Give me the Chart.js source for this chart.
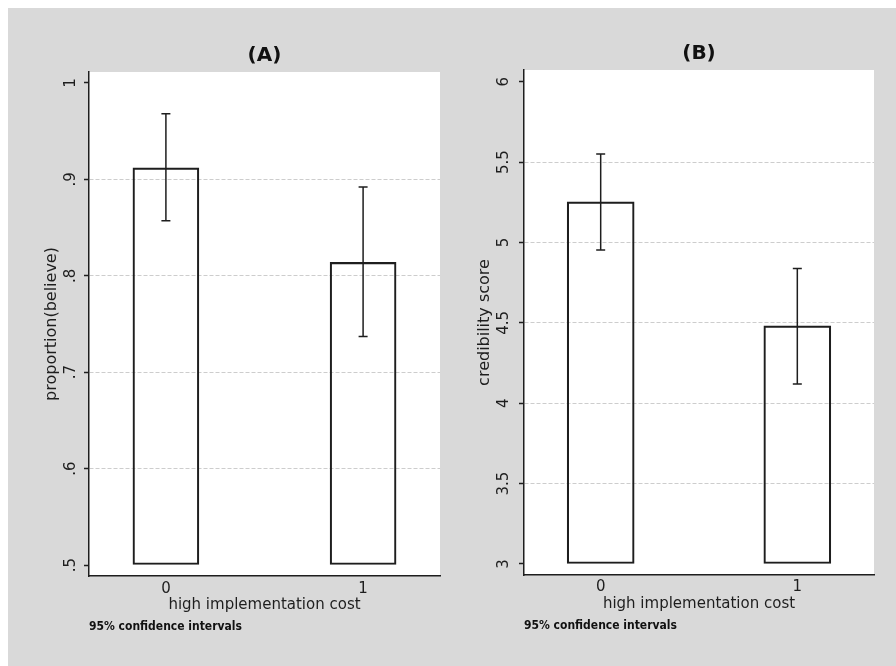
<!DOCTYPE html>
<html>
<head>
<meta charset="utf-8">
<script src="https://cdn.jsdelivr.net/npm/chart.js@4/dist/chart.umd.min.js"></script>
<style>
    body { margin: 0; background: #ffffff; }
    #bg { position: absolute; left: 8px; top: 8px; width: 888px; height: 658px; background: #d9d9d9; }
    .panel { position: absolute; top: 0; width: 448px; height: 666px; }
</style>
</head>
<body>
<div id="bg"></div>
<div class="panel" style="left:0"><canvas id="chartA" width="448" height="666"></canvas></div>
<div class="panel" style="left:448px"><canvas id="chartB" width="448" height="666"></canvas></div>
<script>
// data
const categories = ['0', '1'];

const meanA = [0.912, 0.814];
const lowA = [0.857, 0.737];
const highA = [0.968, 0.892];
const yTicksA = [0.5, 0.6, 0.7, 0.8, 0.9, 1];
const yLabelsA = ['.5', '.6', '.7', '.8', '.9', '1'];

const meanB = [5.253, 4.481];
const lowB = [4.953, 4.12];
const highB = [5.551, 4.838];
const yTicksB = [3, 3.5, 4, 4.5, 5, 5.5, 6];
const yLabelsB = ['3', '3.5', '4', '4.5', '5', '5.5', '6'];

const ink = '#1e1e1e';
const font = 'DejaVu Sans';

// white plot region
const plotBackground = {
    id: 'plotBackground',
    beforeDraw(chart) {
        const a = chart.chartArea;
        const ctx = chart.ctx;
        ctx.save();
        ctx.fillStyle = '#ffffff';
        ctx.fillRect(a.left, a.top, a.right - a.left, a.bottom - a.top);
        ctx.restore();
    }
};

// 95% CI whiskers
const errorBars = {
    id: 'errorBars',
    afterDatasetsDraw(chart, args, opts) {
        const ctx = chart.ctx;
        const xs = chart.scales.x;
        const ys = chart.scales.y;
        ctx.save();
        ctx.strokeStyle = ink;
        ctx.lineWidth = 1.5;
        opts.low.forEach((lo, i) => {
            const x = xs.getPixelForValue(i);
            const y1 = ys.getPixelForValue(lo);
            const y2 = ys.getPixelForValue(opts.high[i]);
            ctx.beginPath();
            ctx.moveTo(x, y1); ctx.lineTo(x, y2);
            ctx.moveTo(x - 4.5, y1); ctx.lineTo(x + 4.5, y1);
            ctx.moveTo(x - 4.5, y2); ctx.lineTo(x + 4.5, y2);
            ctx.stroke();
        });
        ctx.restore();
    }
};

function makeChart(id, cfg) {
    const ctx = document.getElementById(id).getContext('2d');
    return new Chart(ctx, {
        type: 'bar',
        data: {
            datasets: [{
                data: categories.map((c, i) => ({ x: i, y: cfg.means[i] })),
                base: cfg.yTicks[0],
                backgroundColor: 'rgba(255,255,255,0)',
                borderColor: ink,
                borderWidth: 1.5,
                borderSkipped: false,
                barThickness: cfg.barWidth
            }]
        },
        plugins: [plotBackground, errorBars],
        options: {
            responsive: false,
            animation: false,
            layout: { padding: cfg.padding },
            scales: {
                x: {
                    type: 'linear',
                    min: -0.39,
                    max: 1.39,
                    offset: false,
                    bounds: 'data',
                    afterBuildTicks: (s) => { s.ticks = categories.map((c, i) => ({ value: i })); },
                    afterFit: (s) => { s.height = cfg.xHeight; },
                    grid: { display: false, drawTicks: false, offset: false },
                    border: { display: true, color: ink, width: 1.5 },
                    ticks: {
                        padding: cfg.xTickPad,
                        color: ink,
                        font: { family: font, size: 15 },
                        callback: (v, i) => categories[i]
                    },
                    title: {
                        display: true,
                        text: 'high implementation cost',
                        color: ink,
                        font: { family: font, size: 15, lineHeight: 1 },
                        padding: { top: 0, bottom: 0 }
                    }
                },
                y: {
                    min: cfg.yMin,
                    max: cfg.yMax,
                    bounds: 'data',
                    afterBuildTicks: (s) => { s.ticks = cfg.yTicks.map(v => ({ value: v })); },
                    afterFit: (s) => { s.width = cfg.yWidth; },
                    grid: {
                        color: (c) => (c.index === 0 || c.index === cfg.yTicks.length - 1) ? 'rgba(0,0,0,0)' : '#cdcdcd',
                        lineWidth: 1,
                        tickColor: ink,
                        tickLength: 5,
                        tickWidth: 1.5
                    },
                    border: { display: true, color: ink, width: 1.5, dash: [4, 2] },
                    ticks: {
                        minRotation: 90,
                        maxRotation: 90,
                        crossAlign: 'center',
                        padding: cfg.yTickPad,
                        color: ink,
                        font: { family: font, size: 15 },
                        callback: (v, i) => cfg.yLabels[i]
                    },
                    title: {
                        display: true,
                        text: cfg.yTitle,
                        color: ink,
                        font: { family: font, size: 16 },
                        padding: { top: cfg.yTitlePad, bottom: 0 }
                    }
                }
            },
            plugins: {
                legend: { display: false },
                tooltip: { enabled: false },
                title: {
                    display: true,
                    text: cfg.title,
                    fullSize: false,
                    color: '#111',
                    font: { family: font, size: 20, weight: 'bold', lineHeight: 1 },
                    padding: cfg.titlePad
                },
                subtitle: {
                    display: true,
                    text: '95% confidence intervals',
                    position: 'bottom',
                    align: 'start',
                    fullSize: false,
                    color: '#111',
                    font: { family: 'DejaVu Sans Condensed', size: 12, weight: 'bold' },
                    padding: { top: 6.8, bottom: 0 }
                },
                errorBars: { low: cfg.low, high: cfg.high }
            }
        }
    });
}

makeChart('chartA', {
    title: '(A)',
    yTitle: 'proportion(believe)',
    means: meanA, low: lowA, high: highA,
    yTicks: yTicksA, yLabels: yLabelsA,
    yMin: 0.4886, yMax: 1.0114,
    yWidth: 89, yTickPad: 6, yTitlePad: 42,
    xTickPad: 4, xHeight: 37,
    barWidth: 66,
    titlePad: { top: 16, bottom: 6 },
    padding: { top: 30, left: 0, right: 8, bottom: 31.8 }
});

makeChart('chartB', {
    title: '(B)',
    yTitle: 'credibility score',
    means: meanB, low: lowB, high: highB,
    yTicks: yTicksB, yLabels: yLabelsB,
    yMin: 2.9315, yMax: 6.073,
    yWidth: 76, yTickPad: 3, yTitlePad: 27,
    xTickPad: 3.5, xHeight: 36.5,
    barWidth: 67,
    titlePad: { top: 15, bottom: 6 },
    padding: { top: 29, left: 0, right: 22, bottom: 33.3 }
});
</script>
</body>
</html>
